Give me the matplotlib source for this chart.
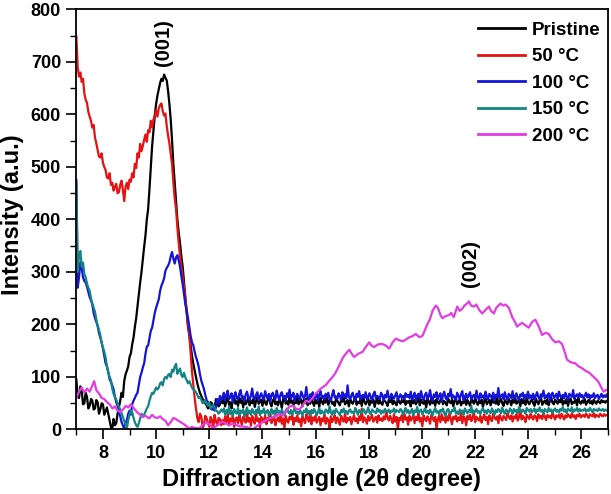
import numpy as np
import matplotlib
matplotlib.use("Agg")
import matplotlib.pyplot as plt
from matplotlib.ticker import MultipleLocator

# ---------------- data ----------------
labels = ["Pristine", "50 \u00b0C", "100 \u00b0C", "150 \u00b0C", "200 \u00b0C"]
colors = ["#000000", "#e41212", "#1414d6", "#138585", "#e33ce3"]

# low-angle part, 7.00 .. 12.45 deg (0.05 deg steps)
pristine_low = [95, 62, 60, 82, 75, 48, 50, 70, 62, 40, 45, 58, 55, 38, 40, 56, 52, 30,
                38, 50, 48, 28, 35, 42, 30, 18, 5, 0, 20, 8, 12, 30, 42, 55, 70, 62,
                92, 105, 112, 120, 138, 145, 162, 175, 195, 212, 235, 258, 280, 300,
                325, 348, 370, 400, 420, 458, 500, 540, 570, 598, 620, 636, 648, 660,
                668, 664, 676, 670, 665, 645, 620, 590, 550, 505, 470, 435, 400, 375,
                355, 330, 310, 280, 250, 222, 195, 180, 160, 140, 125, 112, 100, 88,
                78, 70, 64, 58, 55, 50, 46, 40, 42, 52, 50, 38, 40, 58, 53, 44, 47, 56]
c50_low = [748, 690, 672, 680, 662, 668, 640, 628, 622, 605, 596, 588, 575, 580, 556,
           545, 533, 520, 518, 526, 508, 500, 494, 480, 478, 488, 466, 470, 455, 462,
           468, 450, 452, 466, 474, 456, 435, 462, 470, 458, 476, 472, 488, 480, 506,
           498, 526, 518, 544, 530, 540, 552, 562, 548, 570, 566, 588, 575, 590, 598,
           608, 596, 612, 618, 621, 606, 598, 602, 578, 560, 545, 525, 505, 470, 440,
           420, 385, 355, 330, 312, 290, 272, 250, 228, 200, 180, 145, 110, 85, 60,
           40, 22, 14, 30, 25, 4, 8, 26, 22, 12, 5, 24, 18, 2, 28, 15, 10, 22, 20, 8]
c100_low = [475, 270, 290, 318, 308, 290, 283, 280, 272, 262, 252, 246, 238, 222, 212,
            205, 197, 184, 175, 166, 154, 140, 126, 120, 110, 96, 90, 84, 76, 62, 52,
            45, 33, 25, 14, 8, 2, 12, 18, 30, 36, 28, 48, 55, 60, 66, 70, 85, 100,
            108, 118, 126, 144, 158, 160, 174, 188, 194, 208, 222, 232, 240, 248, 264,
            274, 280, 288, 302, 308, 312, 318, 330, 338, 325, 316, 328, 332, 322, 310,
            292, 276, 258, 238, 226, 212, 195, 178, 166, 160, 148, 138, 130, 120, 105,
            93, 85, 77, 66, 56, 52, 50, 40, 38, 46, 36, 42, 58, 50, 64, 55]
c150_low = [470, 300, 332, 340, 310, 318, 296, 290, 278, 270, 264, 250, 240, 232, 224,
            210, 198, 190, 180, 165, 156, 148, 137, 120, 108, 100, 94, 78, 68, 62, 57,
            50, 43, 38, 31, 24, 16, 8, 2, 18, 28, 36, 33, 22, 14, 8, 5, 12, 21, 30,
            24, 28, 34, 40, 44, 55, 63, 70, 68, 74, 80, 76, 80, 88, 90, 84, 96, 100,
            97, 104, 106, 100, 114, 110, 120, 125, 106, 112, 116, 104, 100, 108, 99,
            94, 88, 92, 86, 80, 76, 74, 71, 66, 60, 62, 57, 50, 52, 56, 49, 45, 51,
            40, 43, 47, 41, 36, 35, 30, 33, 38]

# flat part, 12.5 .. 27.0 deg
pristine_high = [
    50, 58, 44, 55, 61, 47, 52, 40, 57, 63, 49, 54, 45, 60, 51, 56, 42, 59, 48, 53,
    62, 46, 55, 50, 58, 43, 54, 61, 49, 52, 57, 45, 60, 51, 47, 56, 64, 50, 44, 55,
    59, 48, 53, 46, 58, 52, 41, 57, 62, 49, 54, 47, 60, 51, 55, 45, 58, 50, 63, 48,
    53, 57, 44, 56, 51, 59, 46, 54, 49, 61, 52, 45, 57, 50, 55, 43, 60, 53, 48, 56,
    51, 64, 47, 54, 58, 49, 52, 45, 59, 55, 50, 46, 57, 53, 61, 48, 51, 56, 44, 58,
    52, 49, 55, 62, 47, 53, 50, 57, 45, 60, 54, 48, 52, 59, 46, 55, 51, 57, 43, 53,
    60, 49, 56, 50, 47, 58, 54, 51, 45, 57, 52, 61, 48, 55, 50, 46, 59, 53, 49, 56,
    52, 58, 47, 54, 51, 55, 44, 60, 50, 56, 48, 53, 62, 46, 57, 51, 49, 55, 42, 58,
    53, 47, 61, 50, 55, 45, 58, 52, 49, 56, 63, 48, 54, 51, 46, 59, 53, 50, 57, 44,
    55, 60, 48, 52, 57, 46, 53, 50, 62, 47, 56, 51, 45, 58, 54, 49, 61, 52, 47, 55,
    50, 57, 43, 54, 59, 48, 52, 56, 46, 60, 51, 55, 49, 63, 47, 53, 58, 50, 45, 56,
    52, 48, 59, 54, 46, 57, 51, 61, 49, 53, 56, 44, 58, 50, 55, 47, 60, 52, 48, 54,
    57, 50, 45, 59, 53, 48, 56, 62, 47, 52, 55, 49, 58, 46, 54, 60, 51, 48, 57, 53,
    49, 56, 52, 61, 47, 54, 50, 58, 45, 55, 59, 48, 53, 51, 57, 46, 60, 52, 49, 55,
    51, 58, 47, 53, 56, 50, 54, 48, 57, 52, 49, 55, 53, 50, 56, 52, 54, 51, 55, 53]
c50_high = [
    18, 10, 25, 14, 30, 8, 21, 16, 27, 5, 19, 23, 12, 28, 17, 9, 24, 20, 13, 31,
    15, 22, 7, 26, 18, 11, 29, 16, 21, 4, 24, 19, 14, 27, 10, 22, 17, 33, 12, 20,
    25, 8, 18, 23, 15, 28, 11, 21, 2, 26, 17, 13, 24, 19, 30, 9, 22, 16, 27, 14,
    20, 6, 25, 18, 12, 29, 21, 15, 35, 10, 23, 17, 26, 13, 19, 24, 8, 21, 16, 28,
    11, 22, 18, 3, 25, 14, 20, 27, 12, 23, 17, 9, 26, 19, 15, 31, 13, 22, 18, 24,
    10, 20, 27, 16, 21, 12, 25, 18, 40, 14, 23, 19, 11, 26, 17, 22, 28, 15, 20, 24,
    13, 27, 18, 21, 16, 25, 19, 32, 23, 17, 26, 20, 12, 29, 15, 24, 0, 22, 18, 27,
    14, 30, 19, 23, 9, 26, 17, 21, 28, 12, 24, 18, 33, 15, 22, 6, 27, 20, 16, 25,
    19, 11, 28, 22, 16, 24, 1, 20, 26, 14, 29, 18, 23, 13, 25, 17, 31, 21, 10, 24,
    20, 27, 15, 23, 18, 30, 12, 25, 21, 8, 26, 19, 28, 16, 22, 34, 14, 24, 20, 17,
    26, 13, 22, 29, 18, 24, 10, 27, 20, 16, 30, 23, 19, 25, 12, 28, 21, 17, 26, 22,
    18, 31, 24, 20, 27, 15, 25, 21, 29, 17, 23, 38, 19, 26, 22, 14, 28, 24, 20, 30,
    23, 19, 27, 25, 16, 29, 22, 26, 20, 31, 24, 18, 28, 23, 26, 21, 33, 25, 19, 27,
    24, 28, 21, 30, 25, 19, 27, 23, 29, 26, 22, 31, 24, 27, 20, 28, 25, 30, 23, 26,
    28, 24, 30, 26, 22, 29, 27, 25, 31, 23, 28, 26, 24, 30, 27, 25, 29, 26, 28, 27]
c100_high = [
    62, 70, 55, 66, 74, 58, 61, 69, 52, 64, 71, 60, 57, 68, 75, 59, 63, 54, 67, 72,
    61, 56, 65, 78, 60, 58, 66, 71, 55, 63, 69, 62, 57, 73, 64, 59, 68, 53, 66, 70,
    61, 58, 74, 63, 56, 67, 71, 60, 64, 55, 69, 62, 76, 58, 65, 70, 54, 63, 68, 61,
    57, 72, 66, 59, 64, 81, 60, 56, 67, 63, 71, 58, 62, 69, 55, 66, 73, 60, 64, 57,
    68, 62, 70, 59, 54, 66, 75, 61, 63, 58, 69, 64, 56, 71, 62, 67, 59, 84, 63, 57,
    65, 70, 60, 55, 68, 62, 73, 58, 64, 66, 60, 71, 57, 63, 69, 61, 56, 67, 72, 59,
    64, 62, 58, 70, 65, 55, 66, 61, 74, 60, 57, 68, 63, 59, 65, 71, 56, 62, 67, 60,
    64, 58, 69, 62, 66, 60, 72, 57, 63, 70, 54, 65, 68, 59, 73, 61, 56, 66, 70, 58,
    63, 75, 60, 55, 67, 62, 71, 58, 64, 69, 53, 66, 72, 60, 57, 68, 63, 77, 59, 65,
    61, 56, 70, 64, 58, 67, 73, 55, 62, 68, 60, 65, 71, 57, 63, 66, 59, 74, 62, 56,
    69, 61, 65, 58, 72, 63, 57, 68, 64, 60, 70, 55, 66, 62, 79, 59, 64, 67, 58, 71,
    62, 56, 68, 65, 60, 73, 58, 63, 69, 61, 55, 67, 64, 70, 57, 66, 62, 72, 59, 65,
    60, 68, 56, 64, 71, 62, 58, 67, 63, 74, 59, 65, 61, 69, 55, 66, 70, 60, 63, 68,
    57, 72, 64, 61, 66, 59, 70, 63, 56, 68, 65, 62, 75, 58, 64, 67, 60, 69, 62, 66,
    59, 64, 70, 61, 67, 58, 65, 62, 69, 60, 64, 66, 58, 63, 68, 61, 65, 62, 67, 60]
c150_high = [
    34, 40, 28, 37, 31, 43, 29, 35, 26, 39, 33, 30, 41, 27, 36, 32, 38, 25, 34, 42,
    30, 36, 28, 39, 33, 29, 37, 31, 44, 27, 35, 32, 40, 29, 34, 37, 26, 33, 39, 30,
    36, 28, 41, 32, 35, 29, 38, 31, 27, 36, 40, 33, 30, 37, 28, 35, 42, 31, 34, 29,
    38, 32, 26, 36, 33, 40, 30, 35, 28, 37, 31, 39, 34, 27, 33, 41, 30, 36, 32, 29,
    38, 35, 31, 44, 33, 28, 36, 30, 39, 34, 32, 27, 37, 33, 40, 31, 35, 29, 36, 38,
    32, 34, 30, 41, 35, 28, 37, 33, 31, 39, 36, 30, 34, 42, 32, 29, 38, 35, 33, 31,
    40, 34, 37, 30, 36, 32, 39, 35, 33, 38, 31, 36, 34, 40, 32, 37, 35, 33, 39, 36,
    28, 35, 41, 32, 37, 30, 34, 39, 27, 36, 33, 43, 31, 35, 38, 29, 34, 40, 32, 36,
    30, 38, 33, 27, 36, 41, 32, 35, 29, 37, 34, 40, 31, 26, 36, 39, 33, 30, 37, 35,
    42, 31, 34, 29, 38, 33, 36, 28, 40, 35, 31, 37, 33, 45, 30, 36, 34, 39, 32, 35,
    29, 37, 41, 33, 36, 30, 38, 34, 31, 40, 35, 28, 37, 33, 39, 36, 31, 42, 34, 30,
    38, 35, 32, 40, 36, 30, 39, 34, 37, 31, 43, 36, 33, 38, 35, 30, 41, 37, 34, 39,
    33, 36, 40, 31, 38, 35, 42, 34, 37, 30, 39, 36, 33, 41, 35, 38, 32, 37, 40, 34,
    37, 32, 39, 36, 43, 34, 38, 31, 40, 37, 35, 42, 33, 38, 36, 41, 34, 39, 35, 37,
    36, 40, 34, 38, 35, 41, 37, 33, 39, 36, 38, 35, 40, 37, 36, 39, 35, 38, 36, 37]

# 200 C pattern (smoother, irregular sampling)
c200_x = [7.0, 7.1, 7.2, 7.3, 7.4, 7.5, 7.6, 7.67, 7.75, 7.86, 7.95, 8.05, 8.15, 8.25,
          8.36, 8.45, 8.55, 8.65, 8.75, 8.86, 8.95, 9.05, 9.17, 9.3, 9.4, 9.49, 9.6,
          9.74, 9.85, 9.95, 10.05, 10.15, 10.25, 10.36, 10.45, 10.55, 10.65, 10.74,
          10.85, 10.99, 11.1, 11.24, 11.35, 11.45, 11.61, 11.75, 11.9, 12.0, 12.14,
          12.3, 12.49, 12.6, 12.75, 12.89, 13.0, 13.15, 13.39, 13.5, 13.64, 13.75,
          13.9, 14.0, 14.14, 14.3, 14.45, 14.64, 14.76, 14.9, 15.01, 15.14, 15.25,
          15.39, 15.5, 15.64, 15.75, 15.89, 16.0, 16.2, 16.39, 16.5, 16.64, 16.75,
          16.89, 17.02, 17.1, 17.2, 17.27, 17.35, 17.45, 17.6, 17.77, 17.9, 18.02,
          18.1, 18.2, 18.35, 18.5, 18.64, 18.77, 18.9, 19.02, 19.15, 19.27, 19.39,
          19.5, 19.65, 19.77, 19.9, 20.02, 20.1, 20.2, 20.3, 20.4, 20.52, 20.6, 20.7,
          20.77, 20.9, 21.02, 21.1, 21.2, 21.33, 21.42, 21.52, 21.6, 21.7, 21.77,
          21.85, 21.96, 22.05, 22.15, 22.27, 22.4, 22.52, 22.6, 22.71, 22.8, 22.96,
          23.05, 23.15, 23.27, 23.4, 23.5, 23.58, 23.68, 23.77, 23.9, 24.02, 24.15,
          24.27, 24.4, 24.52, 24.65, 24.77, 24.9, 25.02, 25.15, 25.27, 25.37, 25.46,
          25.6, 25.77, 25.9, 26.02, 26.15, 26.3, 26.4, 26.55, 26.65, 26.75, 26.84,
          26.95, 27.0]
c200_y = [60, 72, 80, 70, 78, 72, 84, 92, 75, 68, 60, 58, 52, 48, 40, 44, 36, 33, 38,
          45, 42, 48, 40, 32, 28, 24, 26, 21, 28, 23, 22, 25, 20, 16, 8, 14, 22, 20,
          16, 12, 8, 2, 5, 3, 2, 8, 14, 10, 2, 8, 15, 12, 8, 12, 9, 6, 5, 3, 0, 5, 10,
          14, 18, 22, 24, 30, 26, 35, 43, 46, 40, 38, 45, 55, 52, 60, 68, 78, 85, 92,
          100, 108, 122, 136, 142, 148, 152, 145, 138, 144, 148, 158, 166, 160, 157,
          162, 163, 160, 154, 166, 173, 170, 168, 171, 175, 178, 182, 176, 178, 188,
          200, 210, 226, 236, 232, 218, 212, 216, 218, 222, 214, 234, 226, 230, 236,
          240, 244, 236, 234, 238, 228, 221, 228, 234, 226, 221, 232, 240, 236, 238,
          232, 214, 205, 196, 200, 203, 198, 194, 205, 209, 196, 180, 184, 182, 172,
          166, 168, 163, 148, 133, 128, 126, 120, 117, 112, 108, 103, 96, 90, 80, 72,
          76, 75]

xlim = (7, 27)
ylim = (0, 800)
xticks = [8, 10, 12, 14, 16, 18, 20, 22, 24, 26]
yticks = [0, 100, 200, 300, 400, 500, 600, 700, 800]

# ---------------- figure ----------------
plt.rcParams["font.family"] = ["Liberation Sans", "DejaVu Sans"]
plt.rcParams["font.weight"] = "bold"

fig = plt.figure(figsize=(6.11, 4.94), dpi=100)
ax = fig.add_axes([0.125, 0.1306, 0.87, 0.8502])


def series(low, high):
    xl = np.linspace(7.0, 12.45, len(low))
    xh = np.linspace(12.5, 27.0, len(high))
    return np.concatenate([xl, xh]), np.concatenate([low, high])


data = [series(pristine_low, pristine_high),
        series(c50_low, c50_high),
        series(c100_low, c100_high),
        series(c150_low, c150_high),
        (np.array(c200_x), np.array(c200_y))]

for (x, y), lab, col in zip(data, labels, colors):
    ax.plot(x, y, color=col, lw=1.6, label=lab)

ax.set_xlim(*xlim)
ax.set_ylim(*ylim)
ax.set_xticks(xticks)
ax.set_yticks(yticks)
ax.xaxis.set_minor_locator(MultipleLocator(1))
ax.yaxis.set_minor_locator(MultipleLocator(50))
ax.tick_params(axis="both", which="major", direction="out", length=7, width=1.2,
               labelsize=13, pad=4)
ax.tick_params(axis="both", which="minor", direction="out", length=4, width=1.0)
for s in ax.spines.values():
    s.set_linewidth(1.3)

ax.set_xlabel("Diffraction angle (2\u03b8 degree)", fontsize=17, fontweight="bold")
ax.set_ylabel("Intensity (a.u.)", fontsize=17, fontweight="bold")
ax.xaxis.set_label_coords(0.461, -0.092)
ax.yaxis.set_label_coords(-0.098, 0.511)

ax.text(10.26, 737, "(001)", rotation=90, ha="center", va="center",
        fontsize=14.5, fontweight="bold")
ax.text(21.83, 317, "(002)", rotation=90, ha="center", va="center",
        fontsize=14.5, fontweight="bold")

leg = ax.legend(loc="upper right", frameon=False, fontsize=13.5,
                handlelength=2.5, handletextpad=0.37, labelspacing=0.5,
                bbox_to_anchor=(1.0, 0.989), borderaxespad=0.0)
for h in leg.legend_handles:
    h.set_linewidth(2)

fig.savefig("out.png", dpi=100)
